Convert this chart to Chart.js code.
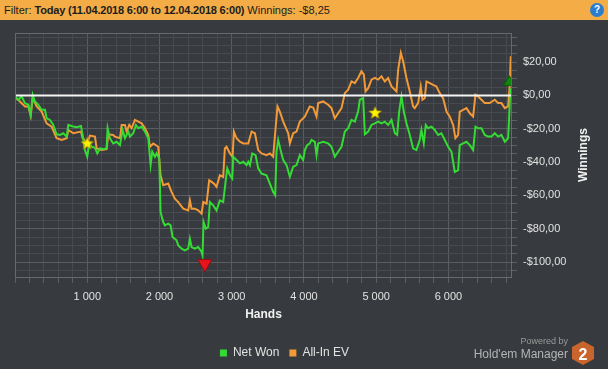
<!DOCTYPE html>
<html>
<head>
<meta charset="utf-8">
<script src="https://cdn.jsdelivr.net/npm/chart.js@4.4.1/dist/chart.umd.min.js"></script>
<style>
  html, body { margin: 0; padding: 0; width: 608px; height: 369px; overflow: hidden; background: #373a3e; font-family: "Liberation Sans", Arial, sans-serif; }
  #header { position: absolute; left: 0; top: 0; width: 608px; height: 20px; background: #f3ac46; color: #1c1c1c; font-size: 11px; line-height: 20px; }
  #header .txt { position: absolute; left: 4px; top: 0; white-space: nowrap; }
  #header b { letter-spacing: -0.2px; }
  #help { position: absolute; left: 590px; top: 3px; width: 14px; height: 14px; border-radius: 50%; background: #2c7dd0; color: #fff; font-size: 10px; font-weight: bold; text-align: center; line-height: 14px; }
  #wrap { position: absolute; left: 0; top: 20px; width: 608px; height: 349px; }
  #brand { position: absolute; left: 440px; top: 336px; width: 128px; text-align: right; color: #a9a9a9; }
  #brand .pw { font-size: 9px; line-height: 11px; color: #9a9a9a; }
  #brand .hm { font-size: 12px; line-height: 14px; color: #b4b4b4; }
  #logo { position: absolute; left: 572px; top: 341px; }
</style>
</head>
<body>
<div id="header"><span class="txt">Filter: <b>Today (11.04.2018 6:00 to 12.04.2018 6:00)</b> Winnings: -$8,25</span><div id="help">?</div></div>
<div id="wrap"><canvas id="graph" width="608" height="349"></canvas></div>
<div id="brand"><div class="pw">Powered by</div><div class="hm">Hold'em Manager</div></div>
<svg id="logo" width="22" height="24" viewBox="0 0 22 24"><polygon points="11,0 22,6 22,18 11,24 0,18 0,6" fill="#c8642c"/><text x="11" y="18.5" font-size="16" font-weight="bold" fill="#ffffff" text-anchor="middle" font-family="Liberation Sans, Arial">2</text></svg>
<script>
// ---- data (hands, $) ----
const netWonHands = [
  0, 46, 92, 138, 184, 217, 245, 277, 323, 369,
  415, 438, 484, 530, 576, 623, 669, 715, 738, 807,
  853, 913, 936, 968, 1000, 1028, 1061, 1107, 1139, 1176,
  1222, 1268, 1282, 1314, 1360, 1407, 1453, 1490, 1522, 1568,
  1591, 1637, 1674, 1706, 1753, 1799, 1845, 1877, 1900, 1937,
  1960, 1997, 2015, 2052, 2075, 2121, 2154, 2181, 2236, 2260,
  2306, 2352, 2398, 2421, 2444, 2490, 2536, 2583, 2596, 2610,
  2642, 2675, 2698, 2744, 2790, 2836, 2882, 2915, 2938, 2975,
  3007, 3021, 3067, 3113, 3160, 3206, 3229, 3252, 3284, 3330,
  3367, 3413, 3482, 3528, 3574, 3602, 3620, 3643, 3676, 3713,
  3759, 3805, 3851, 3897, 3943, 3989, 4012, 4045, 4081, 4105,
  4151, 4174, 4197, 4266, 4335, 4381, 4427, 4473, 4520, 4566,
  4612, 4658, 4704, 4750, 4773, 4820, 4843, 4889, 4935, 4981,
  5027, 5073, 5119, 5165, 5212, 5258, 5290, 5318, 5350, 5382,
  5419, 5465, 5511, 5557, 5603, 5626, 5659, 5686, 5719, 5765,
  5811, 5857, 5903, 5950, 5996, 6042, 6088, 6134, 6157, 6204,
  6250, 6296, 6342, 6374, 6411, 6457, 6503, 6549, 6595, 6642,
  6688, 6734, 6780, 6826, 6840, 6858
];
const netWonValues = [
  -0.6, -2.6, -0.6, -4.6, -5.6, -11.7, 0.4, -3.6, -5.6, -8.6,
  -8.6, -13.7, -14.7, -17.7, -23.3, -23.7, -22.7, -24.7, -17.7, -18.7,
  -19.1, -18.3, -23.7, -32.8, -36.8, -28.8, -30.8, -31.4, -34.8, -31.8,
  -32.2, -31.8, -19.7, -25.7, -28.8, -27.8, -29.8, -20.7, -25.7, -21.7,
  -24.7, -22.7, -17.7, -19.7, -18.7, -21.7, -25.7, -41.8, -33.8, -36.8,
  -34.8, -37.8, -70, -76, -78, -77, -78, -85, -87, -90,
  -92, -93, -92, -86, -91, -92, -91, -94, -96, -76,
  -80, -79, -64, -66, -69, -63, -64, -51.9, -43.8, -47.9,
  -49.9, -36.8, -38.8, -40.8, -39.8, -41.8, -39.8, -41.8, -34.8, -35.8,
  -43.8, -46.9, -47.9, -52.9, -58, -60, -33.8, -26.7, -32.8, -38.8,
  -41.8, -48.9, -42.8, -41.8, -35.8, -38.8, -32.8, -29.8, -28.8, -26.7,
  -27.8, -35.8, -28.8, -27.8, -28.8, -30.8, -36.8, -33.8, -30.8, -21.7,
  -19.7, -14.7, -15.7, -9.7, -2.6, -1.6, -23.3, -21.7, -17.7, -16.7,
  -15.7, -16.7, -15.7, -17.7, -14.7, -22.7, -23.7, -9.7, -0.6, -9.7,
  -16.7, -23.7, -31.8, -32.8, -26.7, -20.7, -28.8, -17.7, -19.7, -18.7,
  -20.7, -23.7, -22.7, -26.7, -30.8, -33.8, -45.9, -44.8, -29.8, -28.8,
  -27.8, -29.8, -32.8, -18.7, -19.7, -19.7, -23.7, -24.7, -24.7, -22.7,
  -24.7, -23.7, -27.8, -25.7, -13.7, 4.4
];
const allInEvHands = [
  0, 69, 138, 184, 217, 245, 300, 369, 438, 507,
  576, 646, 715, 738, 807, 913, 936, 1000, 1037, 1107,
  1130, 1199, 1268, 1291, 1360, 1383, 1453, 1476, 1522, 1545,
  1582, 1614, 1660, 1706, 1753, 1799, 1845, 1868, 1914, 1983,
  2015, 2052, 2121, 2167, 2213, 2260, 2329, 2398, 2421, 2444,
  2490, 2536, 2583, 2606, 2652, 2688, 2721, 2754, 2790, 2836,
  2882, 2905, 2928, 2975, 3012, 3030, 3067, 3113, 3160, 3229,
  3275, 3321, 3367, 3413, 3482, 3528, 3574, 3607, 3634, 3666,
  3713, 3782, 3805, 3851, 3897, 3943, 4012, 4045, 4081, 4128,
  4174, 4197, 4266, 4335, 4381, 4427, 4473, 4520, 4566, 4612,
  4658, 4704, 4750, 4796, 4829, 4852, 4889, 4935, 4981, 5027,
  5073, 5119, 5165, 5212, 5281, 5304, 5341, 5373, 5419, 5465,
  5511, 5534, 5580, 5617, 5640, 5672, 5696, 5742, 5788, 5834,
  5880, 5926, 5973, 6019, 6065, 6097, 6134, 6157, 6204, 6250,
  6296, 6342, 6374, 6411, 6457, 6503, 6572, 6642, 6688, 6734,
  6780, 6826, 6849, 6863
];
const allInEvValues = [
  -1.2, -3.6, -6.6, -6.6, -12.1, -1.6, -6.6, -9.7, -16.7, -18.7,
  -25.7, -26.7, -25.7, -20.7, -22.7, -21.7, -25.7, -28.8, -24.1, -24.7,
  -31.8, -32.8, -32.2, -23.3, -23.7, -24.7, -25.7, -17.7, -17.7, -21.7,
  -17.7, -19.7, -14.7, -15.7, -16.7, -19.7, -23.7, -30.8, -28.8, -30.8,
  -47.9, -53.9, -52.9, -57.9, -62, -64, -68, -69, -63, -68,
  -68, -69, -71, -64, -65, -50.9, -51.9, -52.9, -54.9, -47.9,
  -48.9, -31.8, -30.8, -34.8, -36.8, -21.7, -25.7, -27.8, -28.8, -28.8,
  -21.7, -22.7, -32.8, -34.8, -35.8, -34.8, -36.8, -19.7, -6.6, -9.7,
  -15.7, -22.7, -28.8, -22.7, -21.7, -15.7, -12.7, -9.7, -6.6, -7.2,
  -12.7, -4.6, -3.6, -5.6, -7.6, -13.7, -10.7, -7.6, 1.4, 3.4,
  8.4, 7.4, 10.5, 14.5, 12.5, 2.4, 4.4, 9.5, 10.5, 9.5,
  11.5, 8.4, 10.5, 5.4, 2.4, 15.5, 25.5, 20.5, 10.5, 2.4,
  -6.6, -7.6, -4.6, 5.4, -2.6, -1.6, 8.4, 7.4, 6.4, 5.4,
  1.4, -1.6, -9.7, -12.7, -17.7, -25.7, -23.7, -9.7, -8.6, -7.6,
  -10.7, -12.7, 0.4, -0.6, -2.6, -4.6, -4.6, -2.6, -4.6, -4.6,
  -7.6, -6.6, 6.4, 23.5
];
// note stars, lowest point, highest point
const starHands = [1000, 4985];
const starValues = [-28.6, -10.2];
const lowHands = [2628];
const lowValues = [-101];
const highHands = [6842];
const highValues = [8];
// axis
const xMax = 6880;
const yMin = -109;
const yMax = 37.5;
const xMajorTicks = [1000, 2000, 3000, 4000, 5000, 6000];
const yMajorTicks = [20, 0, -20, -40, -60, -80, -100];
const xMinorStep = 200;
const yMinorStep = 5;

const xGridTicks = [];
for (let h = 0; h < xMax; h += xMinorStep) xGridTicks.push(h);
const yGridTicks = [];
for (let v = -105; v <= 35; v += yMinorStep) yGridTicks.push(v);

const minorGrid = '#474a4f';
const majorGrid = '#5a5d62';
const labelColor = '#e2e2e2';
const legendCenterX = 284.5;

function toPoints(hs, vs) {
    return hs.map((h, i) => ({ x: h, y: vs[i] }));
}

function makeStar(size) {
    const c = document.createElement('canvas');
    c.width = size;
    c.height = size;
    const g = c.getContext('2d');
    const cx = size / 2, cy = size / 2 + 0.6, R = size / 2 - 0.8, r = R * 0.45;
    g.beginPath();
    for (let i = 0; i < 10; i++) {
        const a = -Math.PI / 2 + i * Math.PI / 5;
        const rad = i % 2 ? r : R;
        g.lineTo(cx + rad * Math.cos(a), cy + rad * Math.sin(a));
    }
    g.closePath();
    g.fillStyle = '#fff200';
    g.fill();
    g.strokeStyle = '#8a7b12';
    g.lineWidth = 0.7;
    g.stroke();
    return c;
}

// chart-area frame, zero line, vertical axis title, legend offset
const framePlugin = {
    id: 'frame',
    afterLayout(chart) {
        const lg = chart.legend;
        if (!lg) return;
        const d = legendCenterX - (lg.left + lg.right) / 2;
        lg.left += d;
        lg.right += d;
    },
    afterDatasetsDraw(chart) {
        const { ctx, chartArea: a, scales } = chart;
        const y0 = scales.y.getPixelForValue(0);
        ctx.save();
        ctx.strokeStyle = '#f4f4f4';
        ctx.lineWidth = 2;
        ctx.beginPath();
        ctx.moveTo(a.left, y0);
        ctx.lineTo(a.right, y0);
        ctx.stroke();
        ctx.restore();
    },
    afterDraw(chart) {
        const { ctx, chartArea: a } = chart;
        ctx.save();
        ctx.strokeStyle = '#67696d';
        ctx.lineWidth = 1;
        ctx.strokeRect(a.left + 0.5, a.top + 0.5, a.right - a.left - 1, a.bottom - a.top);
        ctx.translate(583.5, (a.top + a.bottom) / 2);
        ctx.rotate(-Math.PI / 2);
        ctx.fillStyle = '#f0f0f0';
        ctx.font = 'bold 12px "Liberation Sans", Arial, sans-serif';
        ctx.textAlign = 'center';
        ctx.textBaseline = 'middle';
        ctx.fillText('Winnings', 0, 0);
        ctx.restore();
    }
};

const fontFamily = '"Liberation Sans", Arial, sans-serif';

new Chart(document.getElementById('graph'), {
    type: 'line',
    data: {
        datasets: [
            {
                label: 'Net Won',
                data: toPoints(netWonHands, netWonValues),
                borderColor: '#35db35',
                backgroundColor: '#35db35',
                borderWidth: 2,
                pointRadius: 0,
                tension: 0
            },
            {
                label: 'All-In EV',
                data: toPoints(allInEvHands, allInEvValues),
                borderColor: '#f39a38',
                backgroundColor: '#f39a38',
                borderWidth: 2,
                pointRadius: 0,
                tension: 0
            },
            {
                label: 'notes',
                data: toPoints(starHands, starValues),
                showLine: false,
                pointStyle: makeStar(15),
                pointRadius: 7,
                order: -1
            },
            {
                label: 'low',
                data: toPoints(lowHands, lowValues),
                showLine: false,
                pointStyle: 'triangle',
                rotation: 180,
                pointRadius: 8,
                backgroundColor: '#e8141c',
                borderColor: '#9a0c10',
                borderWidth: 1,
                order: -1
            },
            {
                label: 'high',
                data: toPoints(highHands, highValues),
                showLine: false,
                pointStyle: 'triangle',
                pointRadius: 6.5,
                backgroundColor: '#12850f',
                borderColor: '#0a5a0a',
                borderWidth: 1,
                order: -1
            }
        ]
    },
    options: {
        responsive: false,
        animation: false,
        layout: { padding: { left: 15, top: 13, right: 0, bottom: 0 } },
        plugins: {
            tooltip: { enabled: false },
            legend: {
                position: 'bottom',
                labels: {
                    color: labelColor,
                    boxWidth: 7,
                    boxHeight: 7,
                    padding: 10,
                    font: { family: fontFamily, size: 12 },
                    generateLabels: (chart) => Chart.defaults.plugins.legend.labels.generateLabels(chart)
                        .filter(l => l.datasetIndex < 2)
                        .map(l => Object.assign(l, { lineWidth: 0 }))
                }
            }
        },
        scales: {
            x: {
                type: 'linear',
                min: 0,
                max: xMax,
                afterBuildTicks: (s) => { s.ticks = xGridTicks.map(v => ({ value: v })); },
                afterFit: (s) => { s.height = 60; s.paddingLeft = 0; s.paddingRight = 0; },
                border: { display: false },
                grid: {
                    color: (c) => (c.tick && xMajorTicks.includes(c.tick.value)) ? majorGrid : minorGrid,
                    tickColor: '#5d6065',
                    tickLength: 6,
                    tickWidth: 1
                },
                ticks: {
                    autoSkip: false,
                    maxRotation: 0,
                    minRotation: 0,
                    padding: 7,
                    color: labelColor,
                    font: { family: fontFamily, size: 11 },
                    callback: (v) => xMajorTicks.includes(v) ? (v / 1000) + ' 000' : ''
                },
                title: {
                    display: true,
                    text: 'Hands',
                    color: '#f0f0f0',
                    font: { family: fontFamily, size: 12, weight: 'bold' },
                    padding: { top: 0, bottom: 15 }
                }
            },
            y: {
                position: 'right',
                min: yMin,
                max: yMax,
                afterBuildTicks: (s) => { s.ticks = yGridTicks.map(v => ({ value: v })); },
                afterFit: (s) => { s.width = 96; s.paddingTop = 0; s.paddingBottom = 0; },
                border: { display: false },
                grid: {
                    color: (c) => (c.tick && yMajorTicks.includes(c.tick.value)) ? majorGrid : minorGrid,
                    tickColor: '#5d6065',
                    tickLength: 5,
                    tickWidth: 1
                },
                ticks: {
                    autoSkip: false,
                    padding: 6,
                    color: labelColor,
                    font: { family: fontFamily, size: 11 },
                    callback: (v) => yMajorTicks.includes(v) ? (v < 0 ? '-' : '') + '$' + Math.abs(v) + ',00' : ''
                }
            }
        }
    },
    plugins: [framePlugin]
});
</script>
</body>
</html>
